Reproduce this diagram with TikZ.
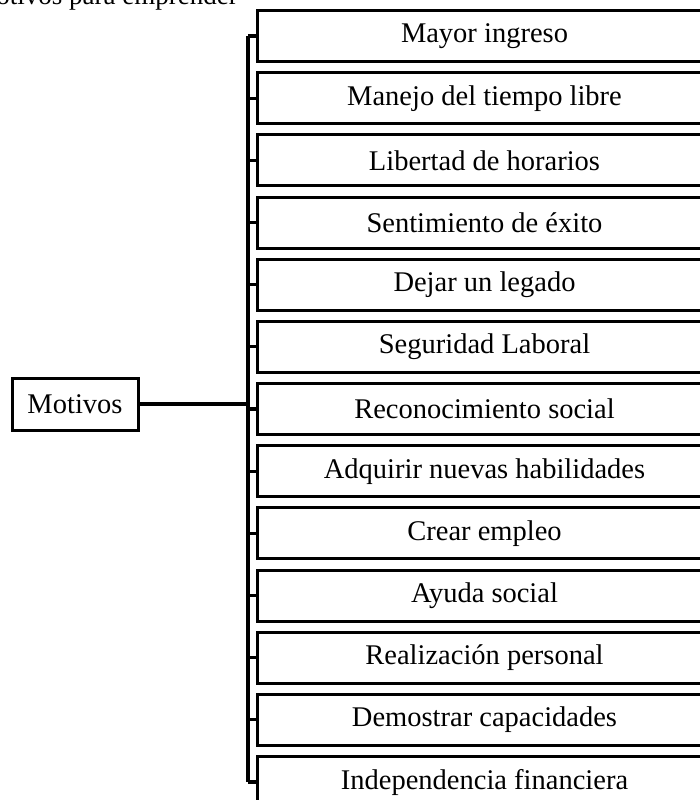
\documentclass[tikz,border=0pt]{standalone}
\usepackage{fontspec}
\setmainfont{Liberation Serif}
\begin{document}
\begin{tikzpicture}[x=1pt,y=-1pt,
  item/.style={draw, line width=3pt, minimum width=454pt, minimum height=51pt, inner sep=0pt,
    font=\fontsize{28.5}{30}\selectfont, anchor=north west},
  rootbox/.style={draw, line width=3pt, minimum width=126pt, minimum height=52pt, inner sep=0pt,
    font=\fontsize{28.5}{30}\selectfont},
  link/.style={line width=3.2pt}]
\path[use as bounding box] (0,0) rectangle (700,800);
\clip (0,0) rectangle (700,800);
\node[anchor=base east, inner sep=0pt, font=\fontsize{27}{30}\selectfont] (title) at (238,4.5) {Motivos para emprender};
\node[rootbox] (root) at (75,404) {Motivos};
\coordinate (spine) at (248,0);
\foreach \i/\t in {0/Mayor ingreso,1/Manejo del tiempo libre,2/Libertad de horarios,3/Sentimiento de éxito,
  4/Dejar un legado,5/Seguridad Laboral,6/Reconocimiento social,7/Adquirir nuevas habilidades,
  8/Crear empleo,9/Ayuda social,10/Realización personal,11/Demostrar capacidades,12/Independencia financiera}{
  \node[item] (b\i) at (256,{9+62.17*\i}) {\t};
  \draw[link] (b\i.west) -- (b\i.west -| spine);
}
\draw[link] (b0.west -| spine) -- (b12.west -| spine);
\draw[link] (root.east) -- (root.east -| spine);
\end{tikzpicture}
\end{document}
